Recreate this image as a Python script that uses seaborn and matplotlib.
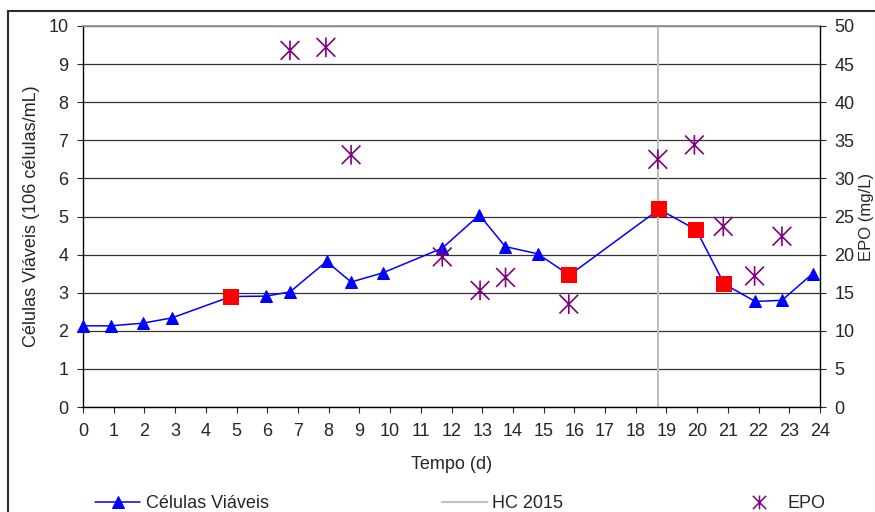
import matplotlib
matplotlib.use("Agg")
import matplotlib.pyplot as plt
from matplotlib.path import Path
from matplotlib.patches import Rectangle
from matplotlib.lines import Line2D
import seaborn as sns

# Células viáveis (eixo esquerdo)
dias = [0, 0.9, 1.95, 2.9, 4.82, 5.96, 6.74, 7.93, 8.73, 9.76, 11.7, 12.91, 13.75, 14.81, 15.84,
        18.76, 19.97, 20.88, 21.89, 22.76, 23.76]
celulas = [2.13, 2.13, 2.20, 2.34, 2.90, 2.91, 3.02, 3.82, 3.28, 3.52, 4.17, 5.04, 4.21, 4.02, 3.46,
           5.19, 4.65, 3.23, 2.77, 2.80, 3.50]

# pontos destacados em vermelho
destaque_dias = [4.82, 15.84, 18.76, 19.97, 20.88]
destaque_cel = [2.90, 3.46, 5.19, 4.65, 3.23]

# EPO (eixo direito)
epo_dias = [6.74, 7.91, 8.73, 11.7, 12.93, 13.76, 15.82, 18.72, 19.91, 20.85, 21.87, 22.76]
epo = [46.8, 47.2, 33.1, 19.7, 15.3, 17.0, 13.5, 32.5, 34.4, 23.7, 17.2, 22.4]

hc_dia = 18.72

sns.set_style("white")
plt.rcParams['font.family'] = ['Liberation Sans', 'DejaVu Sans']
fs = 13

fig = plt.figure(figsize=(8.75, 5.12), dpi=100)
ax1 = fig.add_axes([83 / 875, 105 / 512, 737 / 875, 381 / 512])
ax2 = ax1.twinx()

# linha vertical HC 2015
ax1.axvline(hc_dia, color='#c0c0c0', lw=1.5, zorder=1, label='HC 2015')

sns.lineplot(x=dias, y=celulas, ax=ax1, color='#0000ff', lw=1.1, marker='^', markersize=9,
             markeredgecolor='#0000ff', sort=False, errorbar=None, legend=False,
             label='Células Viáveis', zorder=3)
ax1.lines[-1].set_clip_on(False)

sns.scatterplot(x=destaque_dias, y=destaque_cel, ax=ax1, marker='s', s=135, color='#ff0000',
                edgecolor='#ff0000', linewidth=0, legend=False, zorder=4, clip_on=False)

asterisco = Path([(-1, -1), (1, 1), (-1, 1), (1, -1), (0, -1.05), (0, 1.05)],
                 [Path.MOVETO, Path.LINETO, Path.MOVETO, Path.LINETO, Path.MOVETO, Path.LINETO])
sns.scatterplot(x=epo_dias, y=epo, ax=ax2, marker=asterisco, s=200, facecolor='none',
                edgecolor='#800080', linewidth=1.2, legend=False, clip_on=False)

ax1.set_xlim(0, 24)
ax1.set_ylim(0, 10)
ax2.set_ylim(0, 50)
ax1.set_xticks(range(0, 25))
ax1.set_yticks(range(0, 11))
ax2.set_yticks(range(0, 51, 5))

ax1.set_axisbelow(True)
ax1.yaxis.grid(True, color='#333333', lw=0.9)
ax1.xaxis.grid(False)

for s in ['left', 'bottom']:
    ax1.spines[s].set_color('black')
    ax1.spines[s].set_linewidth(1)
ax1.spines['top'].set_color('#909090')
ax1.spines['top'].set_linewidth(1.2)
ax1.spines['right'].set_visible(False)
for s in ['left', 'top', 'bottom']:
    ax2.spines[s].set_visible(False)
ax2.spines['right'].set_visible(True)
ax2.spines['right'].set_color('black')
ax2.spines['right'].set_linewidth(1)

ax1.tick_params(axis='x', direction='out', length=4.5, width=0.8, pad=7, labelsize=fs, bottom=True)
ax1.tick_params(axis='y', direction='out', length=4.5, width=0.8, pad=6, labelsize=fs, left=True)
ax2.tick_params(axis='y', direction='out', length=4.5, width=0.8, pad=6, labelsize=fs, right=True)

ax1.set_xlabel('Tempo (d)', fontsize=fs)
ax1.xaxis.set_label_coords(0.5, (407 - 456) / 381)
ax1.set_ylabel('Células Viáveis (106 células/mL)', fontsize=fs)
ax1.yaxis.set_label_coords((40 - 83) / 737, 0.5)
ax2.set_ylabel('EPO (mg/L)', fontsize=12)
ax2.yaxis.set_label_coords((859 - 83) / 737, 0.5)

# legenda em baixo
h1, l1 = ax1.get_legend_handles_labels()
epo_handle = Line2D([], [], ls='none', marker=asterisco, markersize=10,
                    markeredgecolor='#800080', markerfacecolor='none', markeredgewidth=1.1)
handles = [h1[l1.index('Células Viáveis')], h1[l1.index('HC 2015')], epo_handle]
labels = ['Células Viáveis', 'HC 2015', 'EPO']
fig.legend(handles, labels, loc='center left', bbox_to_anchor=(95 / 875, 8 / 512), ncol=3,
           frameon=False, fontsize=fs, handlelength=2.5, handletextpad=0.3,
           columnspacing=9.6, borderpad=0, borderaxespad=0)

# moldura do gráfico
fig.patches.append(Rectangle((8 / 875, -0.2), 2, (512 - 11) / 512 + 0.2, transform=fig.transFigure,
                             fill=False, edgecolor='#2b2b2b', lw=1.5))

fig.savefig('out.png', dpi=100)
